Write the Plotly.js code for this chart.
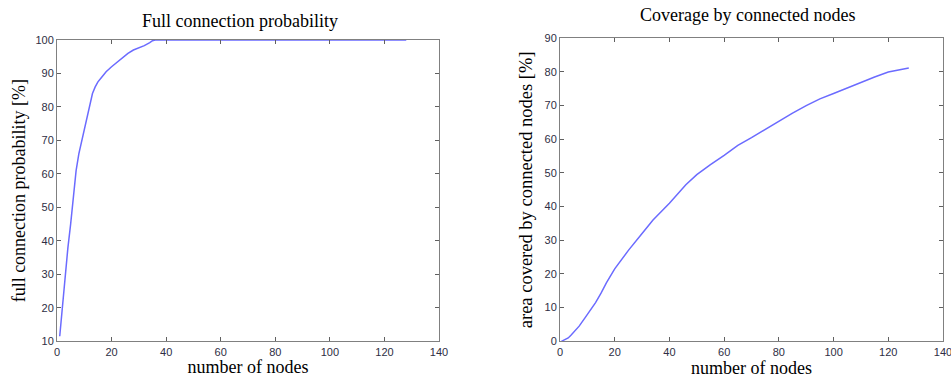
<!DOCTYPE html>
<html>
<head>
<meta charset="utf-8">
<script src="https://cdn.plot.ly/plotly-3.0.1.min.js"></script>
<style>html,body{margin:0;padding:0;background:#fff;}#chart{width:951px;height:381px;}</style>
</head>
<body>
<div id="chart"></div>
<script>
// Left panel: full connection probability
const probNodes = [1,2,3,4,5,6,7,8,9,10,11,12,13,14,15,16,18,20,22,24,26,28,30,32,34,35,36,41,128];
const probValues = [11.5,21,30,38,45,53,61,66,69.5,73,76.5,80,84,86,87.5,88.5,90.5,92,93.3,94.7,96,97,97.6,98.3,99.2,99.8,100,100,100];

// Right panel: coverage by connected nodes
const covNodes = [0.5,2,3,4,5,7,9,11,13,15,17,20,25,30,34,40,46,50,55,60,65,70,75,80,85,90,95,100,105,110,115,120,125,127.5];
const covValues = [0,0.5,1,1.8,2.6,4.5,6.8,9,11.5,14.3,17.4,21.5,27,32,36,41,46.5,49.5,52.5,55.2,58.2,60.5,63,65.3,67.8,70,72,73.6,75.3,76.8,78.5,80,80.7,81.2];

const xTicks = [0,20,40,60,80,100,120,140];
const probTicks = [10,20,30,40,50,60,70,80,90,100];
const covTicks = [0,10,20,30,40,50,60,70,80,90];

const titleLeft = "Full connection probability";
const titleRight = "Coverage by connected nodes";
const xLabel = "number of nodes";
const yLabelLeft = "full connection probability [%]";
const yLabelRight = "area covered by connected nodes [%]";

const lineStyle = {color: '#6b6bff', width: 1.5};
const serif = 'Liberation Serif, Times New Roman, serif';
const tickFont = {family: 'Liberation Sans, Arial, sans-serif', size: 11, color: '#2e2e44'};

function axisCommon(extra) {
  return Object.assign({
    showgrid: false, zeroline: false,
    showline: true, linecolor: '#808080', linewidth: 1, mirror: 'ticks',
    ticks: 'inside', ticklen: 4, tickcolor: '#606060', tickwidth: 1,
    tickfont: tickFont, fixedrange: true, ticklabeloverflow: 'allow'
  }, extra);
}

const data = [
  {x: probNodes, y: probValues, type: 'scatter', mode: 'lines', line: lineStyle, xaxis: 'x', yaxis: 'y', hoverinfo: 'skip', cliponaxis: false},
  {x: covNodes, y: covValues, type: 'scatter', mode: 'lines', line: lineStyle, xaxis: 'x2', yaxis: 'y2', hoverinfo: 'skip'}
];

const layout = {
  width: 951, height: 381,
  margin: {l: 0, r: 0, t: 0, b: 0},
  paper_bgcolor: '#fff', plot_bgcolor: '#fff',
  showlegend: false,
  xaxis: axisCommon({domain: [57/951, 439/951], range: [0,140], tickvals: xTicks, anchor: 'y',
    title: {text: xLabel, font: {family: serif, size: 18, color: '#000'}, standoff: 2}}),
  yaxis: axisCommon({domain: [1-341.3/381, 1-40/381], range: [10,100], tickvals: probTicks, anchor: 'x',
    title: {text: yLabelLeft, font: {family: serif, size: 18, color: '#000'}, standoff: 5}}),
  xaxis2: axisCommon({domain: [560/951, 943/951], range: [0,140], tickvals: xTicks, anchor: 'y2',
    title: {text: xLabel, font: {family: serif, size: 18, color: '#000'}, standoff: 4}}),
  yaxis2: axisCommon({domain: [1-341.3/381, 1-38.3/381], range: [0,90], tickvals: covTicks, anchor: 'x2',
    title: {text: yLabelRight, font: {family: serif, size: 18.5, color: '#000'}, standoff: 7}}),
  annotations: [
    {text: titleLeft, xref: 'paper', yref: 'paper', x: 240/951, y: 1-21/381, xanchor: 'center', yanchor: 'middle', showarrow: false, font: {family: serif, size: 18, color: '#000'}},
    {text: titleRight, xref: 'paper', yref: 'paper', x: 747/951, y: 1-15/381, xanchor: 'center', yanchor: 'middle', showarrow: false, font: {family: serif, size: 18, color: '#000'}}
  ]
};

Plotly.newPlot('chart', data, layout, {displayModeBar: false, staticPlot: true});
</script>
</body>
</html>
